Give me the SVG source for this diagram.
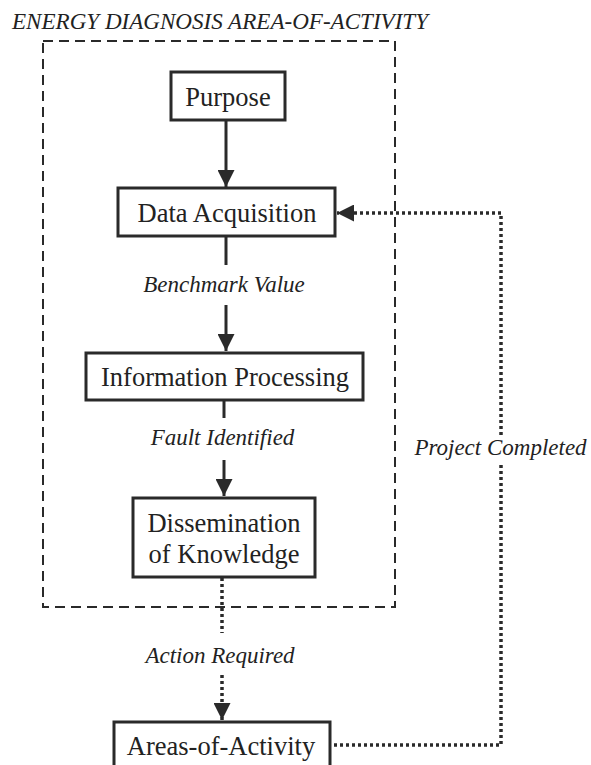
<svg xmlns="http://www.w3.org/2000/svg" width="591" height="765" viewBox="0 0 591 765">
<style>
.box{fill:#fff;stroke:#2a2a2a;stroke-width:3}
.t{font-family:"Liberation Serif",serif;font-size:26.5px;fill:#222;text-anchor:middle}
.l{font-family:"Liberation Serif",serif;font-size:23px;font-style:italic;fill:#222;text-anchor:middle}
.solid{stroke:#2a2a2a;stroke-width:3;fill:none}
.dot{stroke:#2a2a2a;stroke-width:3.5;stroke-dasharray:3 3;fill:none}
.frame{stroke:#2a2a2a;stroke-width:2;stroke-dasharray:10 6;fill:none}
</style>
<defs>
<marker id="ah" viewBox="0 0 10 10" refX="10" refY="5" markerWidth="17" markerHeight="17" markerUnits="userSpaceOnUse" orient="auto">
<path d="M0,0 L10,5 L0,10 z" fill="#2a2a2a"/>
</marker>
</defs>
<rect width="591" height="765" fill="#fff"/>
<g id="frame">
<text x="12" y="29" font-family="Liberation Serif,serif" font-size="22.5" font-style="italic" fill="#222" textLength="416" lengthAdjust="spacingAndGlyphs">ENERGY DIAGNOSIS AREA-OF-ACTIVITY</text>
<rect class="frame" x="43" y="41" width="352" height="566"/>
</g>
<g id="connectors">
<line class="solid" x1="226" y1="121" x2="226" y2="187" marker-end="url(#ah)"/>
<line class="solid" x1="226" y1="237" x2="226" y2="265"/>
<line class="solid" x1="226" y1="305" x2="226" y2="351" marker-end="url(#ah)"/>
<line class="solid" x1="224" y1="401" x2="224" y2="418"/>
<line class="solid" x1="224" y1="460" x2="224" y2="496" marker-end="url(#ah)"/>
<line class="dot" x1="222" y1="578" x2="222" y2="633"/>
<line class="dot" x1="222" y1="675" x2="222" y2="720" marker-end="url(#ah)"/>
<polyline class="dot" points="334,745 501,745 501,463"/>
<polyline class="dot" points="501,435 501,213 337,213" marker-end="url(#ah)"/>
<text class="l" x="224" y="292">Benchmark Value</text>
<text class="l" x="222.5" y="445">Fault Identified</text>
<text class="l" x="220" y="663">Action Required</text>
<text class="l" x="500.5" y="455">Project Completed</text>
</g>
<g id="purpose">
<rect class="box" x="171" y="72" width="114" height="48"/>
<text class="t" x="228" y="106">Purpose</text>
</g>
<g id="data-acquisition">
<rect class="box" x="118" y="188" width="217" height="48"/>
<text class="t" x="227" y="222">Data Acquisition</text>
</g>
<g id="information-processing">
<rect class="box" x="86" y="353" width="277" height="47"/>
<text class="t" x="225" y="386">Information Processing</text>
</g>
<g id="dissemination">
<rect class="box" x="133" y="498" width="182" height="79"/>
<text class="t" x="224" y="532">Dissemination</text>
<text class="t" x="224" y="563">of Knowledge</text>
</g>
<g id="areas-of-activity">
<rect class="box" x="114" y="722" width="216" height="50"/>
<text class="t" x="221" y="755">Areas-of-Activity</text>
</g>
</svg>
